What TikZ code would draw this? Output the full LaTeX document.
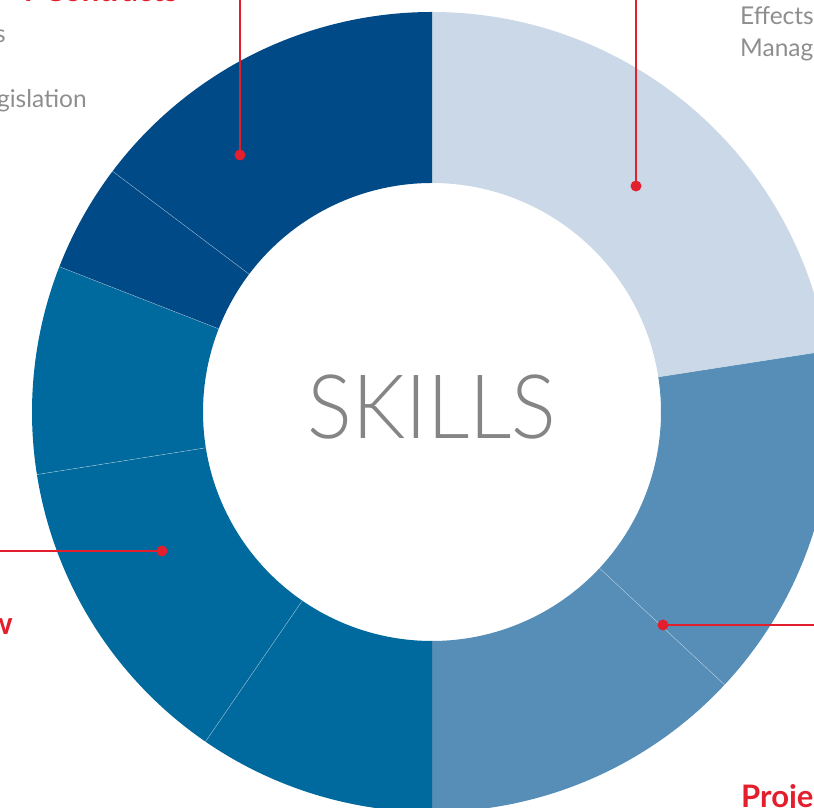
\documentclass[tikz,border=0pt]{standalone}
\usepackage{fontspec}
\setmainfont{Lato}
\newfontfamily\lightfont{Lato Light}
\definecolor{cLight}{HTML}{CAD8E7}
\definecolor{cMed}{HTML}{568EB7}
\definecolor{cMid}{HTML}{00699D}
\definecolor{cDark}{HTML}{004A87}
\definecolor{cRed}{HTML}{E31E2D}
\definecolor{cGray}{HTML}{8E8E8E}
\definecolor{cSkill}{HTML}{858585}
\tikzset{
  dot/.style={circle,fill=cRed,inner sep=0pt,minimum size=11pt},
  leader/.style={draw=cRed,line width=2.6pt},
  divider/.style={draw=white,draw opacity=0.45,line width=0.5pt},
  graytext/.style={text=cGray,font=\fontsize{24.5}{28}\selectfont,inner sep=0pt},
  redtext/.style={text=cRed,font=\fontsize{31}{36}\selectfont\bfseries,inner sep=0pt},
}
\newcommand{\seg}[3]{\fill[#1] (#2:400) arc[start angle=#2,end angle=#3,radius=400] -- (#3:229) arc[start angle=#3,end angle=#2,radius=229] -- cycle;}
\begin{document}
\begin{tikzpicture}[x=1pt,y=1pt]
\useasboundingbox (0,0) rectangle (814,808);
\clip (0,0) rectangle (814,808);
\begin{scope}[shift={(432,396)}]
\seg{cLight}{8.8}{90}
\seg{cMed}{-43}{8.8}
\seg{cMed}{-90}{-43}
\seg{cMid}{235.5}{270}
\seg{cMid}{189}{235.5}
\seg{cMid}{158.7}{189}
\seg{cDark}{143}{158.7}
\seg{cDark}{90}{143}
\foreach \a in {8.8,-43,235.5,189,158.7,143}{
  \draw[divider] (\a:229) -- (\a:400);
}
\node[text=cSkill,font=\lightfont\fontsize{89}{90}\selectfont,inner sep=0pt,transform shape,xscale=0.94] (skills) at (0,4.5) {SKILLS};
\end{scope}
% leader dots
\node[dot] (d1) at (240,653) {};
\node[dot] (d2) at (636,622) {};
\node[dot] (d3) at (162,257) {};
\node[dot] (d4) at (663,183) {};
\coordinate (e1) at (240,812);
\coordinate (e2) at (636,812);
\coordinate (e3) at (-4,257);
\coordinate (e4) at (818,183);
\draw[leader] (d1.center) -- (e1);
\draw[leader] (d2.center) -- (e2);
\draw[leader] (d3.center) -- (e3);
\draw[leader] (d4.center) -- (e4);
% texts
\node[redtext,anchor=base east] (t1) at (178,806) {r Contracts};
\node[graytext,anchor=base east] (t2) at (6,765) {s};
\node[graytext,anchor=base east] (t3) at (87,700) {gislation};
\node[graytext,anchor=base west] (t4) at (740,783) {Effects};
\node[graytext,anchor=base west] (t5) at (740,751) {Manag};
\node[redtext,anchor=base east] (t6) at (13,173) {w};
\node[redtext,anchor=base west] (t7) at (741,0) {Proje};
\end{tikzpicture}
\end{document}
